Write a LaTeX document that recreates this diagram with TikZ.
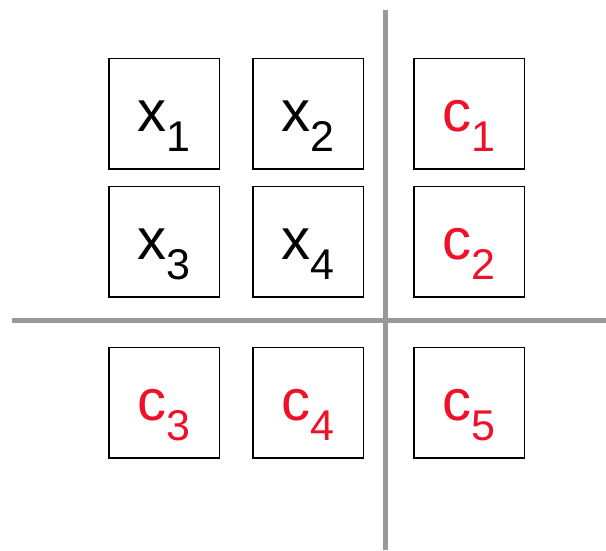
\documentclass[tikz,border=0pt]{standalone}
\usepackage{fontspec}
\setmainfont{Liberation Sans}
\usetikzlibrary{positioning}

\definecolor{sepgray}{HTML}{999999}
\definecolor{cellred}{HTML}{F0102A}

% letter with a lowered index
\newcommand{\entry}[2]{#1\raisebox{-20pt}{\fontsize{43}{43}\selectfont #2}}

\begin{document}
\begin{tikzpicture}[x=1pt, y=1pt,
    cell/.style={draw, line width=1.5pt, minimum size=110.5pt, inner sep=0pt,
      font=\fontsize{58}{58}\selectfont, text height=36pt, text depth=0pt},
    const/.style={cell, text=cellred},
    sepline/.style={draw=sepgray, line width=5pt}]
        \useasboundingbox (0,0) rectangle (606,551);

        % Separating lines
        \coordinate (vtop) at (385,541);
        \coordinate (vbot) at (385,1);
        \coordinate (hleft) at (12,230);
        \coordinate (hright) at (606,230);
        \draw[sepline] (vtop) -- (vbot);
        \draw[sepline] (hleft) -- (hright);

        % Unknowns
        \node[cell] (x1) at (164,437) {\entry{x}{1}};
        \node[cell, right=32pt of x1] (x2) {\entry{x}{2}};
        \node[cell, below=16pt of x1] (x3) {\entry{x}{3}};
        \node[cell, right=32pt of x3] (x4) {\entry{x}{4}};

        % Constants
        \node[const, right=49pt of x2] (c1) {\entry{c}{1}};
        \node[const, below=16pt of c1] (c2) {\entry{c}{2}};
        \node[const, below=49pt of x3] (c3) {\entry{c}{3}};
        \node[const, right=32pt of c3] (c4) {\entry{c}{4}};
        \node[const, below=49pt of c2] (c5) {\entry{c}{5}};
\end{tikzpicture}
\end{document}
